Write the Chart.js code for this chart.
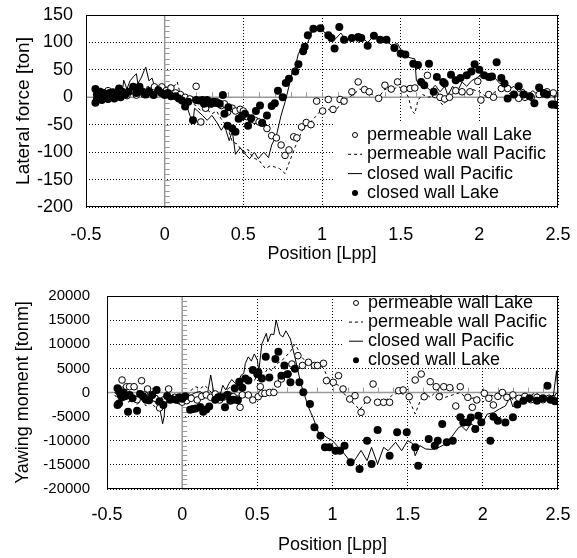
<!DOCTYPE html>
<html>
<head>
<meta charset="utf-8">
<script src="https://cdn.jsdelivr.net/npm/chart.js@4.4.1/dist/chart.umd.min.js"></script>
<style>
  body { margin: 0; background: #fff; }
  #wrap { position: relative; width: 577px; height: 558px; }
  canvas { position: absolute; left: 0; }
</style>
</head>
<body>
<div id="wrap">
  <canvas id="forceChart" width="577" height="280" style="top:0"></canvas>
  <canvas id="momentChart" width="577" height="278" style="top:280px"></canvas>
</div>
<script>
const FONT = "'Liberation Sans', Arial, sans-serif";
const seriesNames = ["permeable wall Lake", "permeable wall Pacific", "closed wall Pacific", "closed wall Lake"];
const xTicks = [-0.5, 0, 0.5, 1, 1.5, 2, 2.5];

// ---- lateral force [ton] ----
const forcePermLake = [[-0.43,5],[-0.41,-3],[-0.38,8],[-0.36,12],[-0.34,0],[-0.32,5],[-0.30,2],[-0.27,8],[-0.24,3],[-0.21,12],[-0.18,4],[-0.15,10],[-0.13,5],[-0.10,12],[-0.065,19],[-0.04,14],[-0.018,19],[0.01,12],[0.04,17],[0.07,8],[0.10,5],[0.13,0],[0.16,-3],[0.20,20],[0.23,-45],[0.26,-20],[0.30,-12],[0.33,-8],[0.36,-15],[0.38,-12],[0.40,-27],[0.43,-20],[0.45,-25],[0.48,-22],[0.50,-25],[0.52,-35],[0.55,-40],[0.574,-42],[0.60,-45],[0.62,-46],[0.65,-57],[0.68,-70],[0.71,-74],[0.74,-87],[0.765,-106],[0.79,-96],[0.82,-72],[0.84,-74],[0.87,-54],[0.90,-46],[0.93,-50],[0.966,-7],[1.004,-25],[1.04,-4],[1.07,-22],[1.115,-4],[1.14,-7],[1.19,10],[1.23,28],[1.27,14],[1.30,10],[1.36,-2],[1.40,22],[1.44,15],[1.48,28],[1.52,15],[1.56,16],[1.59,17],[1.67,40],[1.72,5],[1.75,0],[1.78,-3],[1.81,0],[1.85,12],[1.89,10],[1.94,10],[1.99,29],[2.01,-5],[2.06,5],[2.09,0],[2.14,16],[2.18,16],[2.22,5],[2.25,-2],[2.29,0],[2.33,0],[2.38,5],[2.43,10],[2.47,8],[2.50,-3]];
const forcePermPacific = [[-0.45,5],[-0.40,0],[-0.35,5],[-0.30,8],[-0.25,10],[-0.20,12],[-0.15,15],[-0.10,20],[-0.05,22],[-0.02,18],[0.0,15],[0.03,22],[0.06,20],[0.08,28],[0.10,5],[0.13,0],[0.16,-10],[0.20,-15],[0.23,-25],[0.26,-20],[0.30,-30],[0.33,-25],[0.36,-40],[0.40,-55],[0.43,-81],[0.46,-85],[0.50,-100],[0.53,-95],[0.56,-110],[0.60,-115],[0.64,-130],[0.67,-125],[0.70,-127],[0.73,-130],[0.765,-139],[0.79,-120],[0.83,-90],[0.86,-70],[0.88,-57],[0.93,-44],[0.96,-35],[0.99,-25],[1.03,-20],[1.08,-28],[1.11,-15],[1.14,-10],[1.17,0],[1.20,5],[1.24,15],[1.28,10],[1.32,5],[1.36,0],[1.40,15],[1.44,10],[1.48,20],[1.52,15],[1.55,0],[1.57,-24],[1.59,-30],[1.61,-5],[1.64,5],[1.68,0],[1.72,5],[1.75,-8],[1.77,-15],[1.80,0],[1.85,10],[1.90,5],[1.95,15],[2.0,10],[2.05,0],[2.10,10],[2.15,15],[2.20,5],[2.25,0],[2.30,10],[2.35,5],[2.40,0],[2.45,5],[2.50,-5]];
const forceClosedPacific = [[-0.45,0],[-0.43,8],[-0.42,-5],[-0.40,10],[-0.38,2],[-0.36,12],[-0.35,-3],[-0.33,8],[-0.31,5],[-0.29,19],[-0.27,10],[-0.26,31],[-0.24,15],[-0.22,30],[-0.20,37],[-0.18,43],[-0.17,25],[-0.15,35],[-0.13,49],[-0.12,55],[-0.10,30],[-0.08,35],[-0.07,25],[-0.05,20],[-0.03,15],[0.0,8],[0.02,5],[0.05,-1],[0.08,-5],[0.10,-8],[0.12,-5],[0.14,-15],[0.16,-33],[0.18,-45],[0.19,-20],[0.21,-25],[0.24,-33],[0.27,-42],[0.30,-33],[0.33,-45],[0.36,-60],[0.38,-51],[0.41,-79],[0.43,-62],[0.45,-104],[0.48,-92],[0.52,-106],[0.54,-112],[0.57,-100],[0.595,-112],[0.63,-100],[0.66,-110],[0.68,-87],[0.71,-70],[0.74,-33],[0.765,-9],[0.79,20],[0.81,45],[0.83,55],[0.85,80],[0.88,92],[0.91,100],[0.93,115],[0.95,127],[0.98,130],[1.02,117],[1.05,105],[1.08,105],[1.12,117],[1.16,102],[1.19,112],[1.23,100],[1.26,108],[1.29,100],[1.33,112],[1.37,102],[1.40,105],[1.44,95],[1.48,98],[1.52,77],[1.56,72],[1.59,70],[1.60,30],[1.63,25],[1.66,20],[1.69,12],[1.72,22],[1.75,10],[1.78,20],[1.80,3],[1.83,20],[1.86,10],[1.89,28],[1.92,20],[1.95,30],[1.98,35],[2.01,40],[2.04,38],[2.07,30],[2.10,35],[2.13,25],[2.16,28],[2.19,15],[2.22,20],[2.25,10],[2.28,15],[2.31,5],[2.34,12],[2.37,5],[2.40,15],[2.43,5],[2.46,10],[2.48,0],[2.50,-5]];
const forceClosedLake = [[-0.44,15],[-0.44,-10],[-0.43,-3],[-0.43,5],[-0.42,0],[-0.41,10],[-0.40,-5],[-0.39,8],[-0.38,0],[-0.37,5],[-0.36,-3],[-0.35,8],[-0.34,2],[-0.33,9],[-0.32,-2],[-0.31,3],[-0.29,16],[-0.28,0],[-0.27,10],[-0.25,5],[-0.23,10],[-0.20,19],[-0.18,8],[-0.16,19],[-0.14,10],[-0.12,5],[-0.10,10],[-0.07,4],[-0.04,13],[-0.02,8],[0.0,4],[0.02,8],[0.04,2],[0.07,2],[0.09,-2],[0.11,-6],[0.13,-17],[0.15,-8],[0.18,-42],[0.20,-5],[0.22,-6],[0.24,-5],[0.25,-12],[0.27,-5],[0.29,-12],[0.31,-8],[0.32,-10],[0.34,-11],[0.35,-12],[0.37,4],[0.38,-30],[0.40,-52],[0.405,-18],[0.43,-57],[0.45,-63],[0.47,-39],[0.49,-35],[0.51,-30],[0.53,-52],[0.55,-38],[0.58,-25],[0.606,-15],[0.62,-47],[0.65,-33],[0.68,-16],[0.70,-11],[0.72,12],[0.75,0],[0.77,26],[0.79,34],[0.83,47],[0.85,60],[0.88,84],[0.89,92],[0.91,113],[0.945,125],[0.99,126],[1.04,113],[1.06,108],[1.08,89],[1.11,128],[1.14,105],[1.19,108],[1.23,110],[1.25,108],[1.29,94],[1.33,112],[1.37,105],[1.41,105],[1.46,90],[1.50,80],[1.53,78],[1.58,61],[1.61,59],[1.63,28],[1.65,22],[1.68,61],[1.71,10],[1.73,37],[1.77,28],[1.78,25],[1.82,41],[1.85,31],[1.88,35],[1.92,40],[1.95,47],[1.97,60],[2.0,50],[2.03,40],[2.06,37],[2.08,38],[2.11,64],[2.14,35],[2.16,25],[2.18,-2],[2.22,5],[2.25,20],[2.28,5],[2.32,2],[2.35,-11],[2.38,18],[2.41,8],[2.43,5],[2.46,-13],[2.47,-13],[2.49,-14]];

// ---- yawing moment [tonm] ----
const momentPermLake = [[-0.40,2590],[-0.39,520],[-0.37,1200],[-0.35,1200],[-0.32,1200],[-0.30,-1500],[-0.27,2440],[-0.25,-500],[-0.23,730],[-0.20,-1000],[-0.18,-1200],[-0.15,-3200],[-0.12,-1500],[-0.09,730],[-0.05,-1000],[-0.02,-1700],[0.0,-2000],[0.03,-1700],[0.06,-1200],[0.10,-1550],[0.13,-800],[0.16,-500],[0.19,-1000],[0.22,-300],[0.25,-1550],[0.28,-900],[0.31,-500],[0.34,-870],[0.37,-1350],[0.385,-3070],[0.40,-500],[0.44,-520],[0.47,-1550],[0.506,-870],[0.52,1200],[0.53,-170],[0.55,-170],[0.58,0],[0.61,0],[0.635,1760],[0.66,2800],[0.705,3830],[0.73,5900],[0.77,7630],[0.80,5600],[0.84,6260],[0.88,5600],[0.90,5600],[0.94,6050],[0.96,2450],[1.005,2110],[1.04,3480],[1.07,730],[1.115,-1350],[1.15,-660],[1.19,-4100],[1.23,-1550],[1.27,1760],[1.30,-2030],[1.34,-2030],[1.38,-2030],[1.44,370],[1.47,520],[1.51,-870],[1.55,2590],[1.59,3830],[1.61,-870],[1.65,2240],[1.69,1200],[1.71,-870],[1.74,1200],[1.78,1000],[1.82,-2800],[1.85,1200],[1.90,-1000],[1.93,-3070],[1.96,-1550],[2.01,-170],[2.04,-1200],[2.07,-2590],[2.10,-800],[2.13,0],[2.16,-1000],[2.20,-500],[2.24,-1200],[2.28,-800],[2.32,-1500],[2.36,-1000],[2.40,-1500],[2.44,-1200],[2.48,-1500],[2.50,-800]];
const momentPermPacific = [[-0.45,-500],[-0.42,-1500],[-0.39,-1000],[-0.36,-2000],[-0.33,-1500],[-0.30,-2500],[-0.27,-1500],[-0.24,-2800],[-0.21,-2000],[-0.18,-3000],[-0.15,-3500],[-0.12,-2500],[-0.09,-2000],[-0.06,-1500],[-0.03,-2000],[0.0,-1500],[0.03,-1000],[0.06,500],[0.09,1200],[0.12,800],[0.15,1500],[0.18,500],[0.21,-500],[0.24,0],[0.27,-500],[0.30,500],[0.33,1500],[0.36,1000],[0.39,2000],[0.42,1500],[0.45,3000],[0.48,2500],[0.51,4000],[0.54,3500],[0.57,5000],[0.60,4500],[0.63,6000],[0.66,6500],[0.69,7500],[0.72,8500],[0.75,10000],[0.77,9000],[0.79,7500],[0.82,6500],[0.86,5500],[0.90,6000],[0.94,5000],[0.97,3000],[1.0,2000],[1.04,1500],[1.07,0],[1.12,-1700],[1.15,-2500],[1.18,-3600],[1.22,-2000],[1.26,-1500],[1.30,-2000],[1.35,-1800],[1.40,-500],[1.45,0],[1.50,-1000],[1.53,-3000],[1.55,-4450],[1.58,-2000],[1.61,0],[1.65,-1000],[1.70,500],[1.75,-1000],[1.80,-500],[1.85,0],[1.90,-1500],[1.95,-1000],[2.0,-2000],[2.05,-500],[2.10,-1000],[2.15,0],[2.20,-1500],[2.25,-500],[2.30,-1000],[2.35,0],[2.40,-1000],[2.45,-500],[2.50,-800]];
const momentClosedPacific = [[-0.45,0],[-0.43,-500],[-0.41,500],[-0.39,-1000],[-0.37,-300],[-0.35,-1500],[-0.33,-800],[-0.31,-1800],[-0.29,-500],[-0.27,-1500],[-0.25,-2000],[-0.23,-1000],[-0.21,-2200],[-0.19,-1500],[-0.17,-2500],[-0.15,-3000],[-0.13,-6500],[-0.12,-5000],[-0.11,-1000],[-0.09,-1500],[-0.07,-800],[-0.05,-1500],[-0.03,-1000],[0.0,-1000],[0.03,-600],[0.06,-500],[0.09,0],[0.12,200],[0.15,-500],[0.17,0],[0.19,3630],[0.21,0],[0.23,-1000],[0.25,-800],[0.27,1500],[0.29,500],[0.31,1800],[0.33,2700],[0.35,2000],[0.37,1500],[0.39,3500],[0.41,4000],[0.42,6000],[0.44,7400],[0.46,6500],[0.48,8000],[0.50,6700],[0.51,4500],[0.53,10050],[0.56,12270],[0.57,10500],[0.59,12120],[0.61,12000],[0.625,15030],[0.65,12000],[0.67,11500],[0.69,12800],[0.72,11100],[0.75,7300],[0.79,1760],[0.84,-3070],[0.87,-5140],[0.91,-8600],[0.93,-8500],[0.96,-9290],[1.0,-9990],[1.04,-11360],[1.08,-12750],[1.13,-14820],[1.16,-13430],[1.19,-12000],[1.23,-14130],[1.26,-11360],[1.30,-14820],[1.34,-11360],[1.37,-12060],[1.42,-10320],[1.46,-12060],[1.50,-9990],[1.53,-10500],[1.55,-13100],[1.58,-11000],[1.62,-11710],[1.66,-11800],[1.70,-11500],[1.75,-10670],[1.79,-9290],[1.84,-7210],[1.86,-7000],[1.89,-7910],[1.92,-6500],[1.96,-7210],[2.0,-6180],[2.03,-4450],[2.07,-4200],[2.11,-3420],[2.15,-2800],[2.18,-1000],[2.20,-3000],[2.23,-2000],[2.27,-1500],[2.31,-1000],[2.35,-1300],[2.39,-800],[2.43,-1200],[2.47,-500],[2.49,4500],[2.50,-500]];
const momentClosedLake = [[-0.43,870],[-0.43,-2600],[-0.42,-2300],[-0.42,300],[-0.41,-500],[-0.40,-1000],[-0.39,0],[-0.38,-800],[-0.36,-3970],[-0.35,-500],[-0.33,-1200],[-0.30,-3770],[-0.28,-300],[-0.26,-800],[-0.24,-1500],[-0.22,-1600],[-0.20,-500],[-0.17,520],[-0.15,-1800],[-0.125,-2600],[-0.10,-700],[-0.08,-1500],[-0.07,-1350],[-0.04,-1500],[-0.02,-1000],[0.0,-1300],[0.02,-800],[0.053,-3600],[0.07,-3400],[0.09,-3300],[0.12,-3000],[0.14,-3970],[0.16,-3500],[0.18,-2900],[0.22,-1500],[0.24,-1000],[0.26,-1000],[0.285,-3070],[0.30,-500],[0.32,-1700],[0.34,-1500],[0.35,870],[0.37,-1600],[0.38,2240],[0.40,1000],[0.42,2900],[0.44,2500],[0.47,4660],[0.50,3800],[0.507,4180],[0.53,2900],[0.556,7420],[0.58,3100],[0.62,6940],[0.64,8450],[0.66,3480],[0.68,5600],[0.70,3800],[0.72,2110],[0.75,4900],[0.78,2110],[0.806,41],[0.85,-2380],[0.88,-7200],[0.92,-8950],[0.95,-11360],[0.98,-11360],[1.02,-12060],[1.05,-12060],[1.08,-11020],[1.12,-14460],[1.18,-15860],[1.23,-9990],[1.26,-14820],[1.30,-7770],[1.38,-13100],[1.43,-8250],[1.494,-8250],[1.55,-11360],[1.57,-15170],[1.64,-9640],[1.68,-11020],[1.70,-9990],[1.73,-6530],[1.76,-10300],[1.80,-10000],[1.85,-5140],[1.87,-6200],[1.90,-6180],[1.92,-5200],[1.95,-7560],[1.97,-4800],[1.99,-6180],[2.05,-9990],[2.07,-5000],[2.10,-5840],[2.15,-6200],[2.20,-5140],[2.23,-2500],[2.27,-1700],[2.31,-1200],[2.36,-1700],[2.40,-1200],[2.43,1400],[2.45,-1500],[2.48,-1800]];

const toPts = arr => arr.map(p => ({x: p[0], y: p[1]}));

function makeDatasets(permLake, permPacific, closedPacific, closedLake) {
    return [
        { label: seriesNames[0], data: toPts(permLake), showLine: false, pointRadius: 3.3, pointBorderWidth: 1,
          pointBorderColor: "#000", pointBackgroundColor: "#fff", legendR: 2.5, order: 1 },
        { label: seriesNames[1], data: toPts(permPacific), showLine: true, pointRadius: 0, borderColor: "#000",
          borderWidth: 1, borderDash: [3, 3], order: 3 },
        { label: seriesNames[2], data: toPts(closedPacific), showLine: true, pointRadius: 0, borderColor: "#000",
          borderWidth: 1, order: 2 },
        { label: seriesNames[3], data: toPts(closedLake), showLine: false, pointRadius: 4, pointBorderWidth: 0,
          pointBorderColor: "#000", pointBackgroundColor: "#000", legendR: 3, order: 0 }
    ];
}

// zero axes with minor ticks, frame and boxed legend
const decor = {
    id: "decor",
    beforeDatasetsDraw(chart, args, opts) {
        const {ctx, chartArea: a, scales: {x, y}} = chart;
        const x0 = x.getPixelForValue(0), y0 = y.getPixelForValue(0);
        ctx.save();
        ctx.strokeStyle = "#999";
        ctx.lineWidth = 1.5;
        ctx.beginPath();
        ctx.moveTo(x0, a.top); ctx.lineTo(x0, a.bottom);
        ctx.moveTo(a.left, y0); ctx.lineTo(a.right, y0);
        ctx.stroke();
        ctx.lineWidth = 1;
        ctx.beginPath();
        for (let v = y.min; v <= y.max; v += opts.yMinor) {
            const p = Math.round(y.getPixelForValue(v)) + 0.5;
            ctx.moveTo(x0, p); ctx.lineTo(x0 + 5, p);
        }
        for (let i = 0; i <= 30; i++) {
            const p = Math.round(x.getPixelForValue(-0.5 + i * 0.1)) + 0.5;
            ctx.moveTo(p, y0); ctx.lineTo(p, y0 - 5);
        }
        ctx.stroke();
        ctx.restore();
    },
    afterDatasetsDraw(chart, args, opts) {
        const {ctx, chartArea: a} = chart;
        const lg = opts.legend;
        ctx.save();
        ctx.fillStyle = "#fff";
        ctx.fillRect(lg.x, lg.y, lg.w, lg.h);
        ctx.strokeStyle = "#000";
        ctx.lineWidth = 1;
        ctx.strokeRect(a.left + 0.5, a.top + 0.5, a.right - a.left - 1, a.bottom - a.top - 1);
        ctx.font = "18px " + FONT;
        ctx.textBaseline = "middle";
        chart.data.datasets.forEach((ds, i) => {
            const cy = lg.rowY + i * lg.rowStep;
            ctx.fillStyle = "#000";
            if (ds.showLine) {
                ctx.setLineDash(ds.borderDash || []);
                ctx.beginPath();
                ctx.moveTo(lg.symX - 7, cy); ctx.lineTo(lg.symX + 7, cy);
                ctx.stroke();
                ctx.setLineDash([]);
            } else {
                ctx.beginPath();
                ctx.arc(lg.symX, cy, ds.legendR, 0, 2 * Math.PI);
                if (ds.pointBackgroundColor === "#000") ctx.fill(); else ctx.stroke();
            }
            ctx.fillText(ds.label, lg.textX, cy);
        });
        ctx.restore();
    }
};

function makeChart(id, datasets, cfg) {
    return new Chart(document.getElementById(id), {
        type: "scatter",
        data: { datasets: datasets },
        plugins: [decor],
        options: {
            responsive: false,
            animation: false,
            devicePixelRatio: 1,
            layout: { padding: { left: 0, right: 19, top: cfg.padTop, bottom: 0 } },
            plugins: {
                legend: { display: false },
                tooltip: { enabled: false },
                decor: { yMinor: cfg.yMinor, legend: cfg.legend }
            },
            scales: {
                x: {
                    type: "linear", min: -0.5, max: 2.5,
                    afterBuildTicks: s => { s.ticks = xTicks.map(v => ({value: v})); },
                    afterFit: s => { s.height = cfg.xHeight; s.paddingLeft = 0; s.paddingRight = 0; },
                    grid: { color: c => c.tick && c.tick.value === 0 ? "transparent" : "#000", lineWidth: 1, drawTicks: false },
                    border: { display: false, dash: [1, 2] },
                    ticks: { color: "#000", padding: cfg.xTickPad, font: { family: FONT, size: 18 }, callback: v => String(v) },
                    title: { display: true, text: "Position [Lpp]", color: "#000", font: { family: FONT, size: 18 },
                             padding: { top: 0, bottom: cfg.xTitlePad } }
                },
                y: {
                    type: "linear", min: cfg.yMin, max: cfg.yMax,
                    afterBuildTicks: s => { s.ticks = cfg.yTicks.map(v => ({value: v})); },
                    afterFit: s => { s.width = cfg.yWidth; s.paddingTop = 0; s.paddingBottom = 0; },
                    grid: { color: c => c.tick && c.tick.value === 0 ? "transparent" : "#000", lineWidth: 1, drawTicks: false },
                    border: { display: false, dash: [1, 2] },
                    ticks: { color: "#000", padding: cfg.yTickPad, font: { family: FONT, size: cfg.yTickSize }, callback: v => String(v) },
                    title: { display: true, text: cfg.yTitle, color: "#000", font: { family: FONT, size: cfg.yTitleSize },
                             padding: { top: 12, bottom: 0 } }
                }
            }
        }
    });
}

const forceTicks = [-200, -150, -100, -50, 0, 50, 100, 150];
const momentTicks = [-20000, -15000, -10000, -5000, 0, 5000, 10000, 15000, 20000];

makeChart("forceChart",
    makeDatasets(forcePermLake, forcePermPacific, forceClosedPacific, forceClosedLake),
    { padTop: 15, xHeight: 73, yWidth: 86, yMin: -200, yMax: 150, yTicks: forceTicks, yMinor: 10,
      yTitle: "Lateral force [ton]", yTitleSize: 19, yTickSize: 18, yTickPad: 13, xTickPad: 17, xTitlePad: 15,
      legend: { x: 335, y: 121, w: 222, h: 85, rowY: 135, rowStep: 19.3, symX: 355, textX: 367 } });

makeChart("momentChart",
    makeDatasets(momentPermLake, momentPermPacific, momentClosedPacific, momentClosedLake),
    { padTop: 16, xHeight: 69, yWidth: 107, yMin: -20000, yMax: 20000, yTicks: momentTicks, yMinor: 1000,
      yTitle: "Yawing moment [tonm]", yTitleSize: 18, yTickSize: 15, yTickPad: 17, xTickPad: 15, xTitlePad: 2,
      legend: { x: 342, y: 17, w: 215, h: 70, rowY: 23, rowStep: 19.1, symX: 356, textX: 368 } });
</script>
</body>
</html>
